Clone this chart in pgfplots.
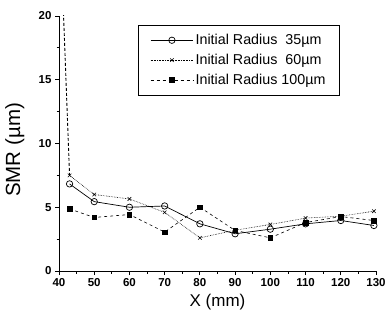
\documentclass[border=0pt]{standalone}
\usepackage{pgfplots}
\pgfplotsset{compat=1.18}
\usepackage{fontspec}
\setmainfont{Liberation Sans}
\begin{document}
\begin{tikzpicture}
\begin{axis}[
  scale only axis,
  width=317pt, height=255pt,
  xmin=40, xmax=130, ymin=0, ymax=20,
  xtick={40,50,...,130}, ytick={0,5,10,15,20},
  minor x tick num=1, minor y tick num=1,
  axis lines*=left,
  tick align=outside,
  major tick length=4pt, minor tick length=2.5pt,
  tick style={black, line width=0.8pt},
  axis line style={line width=0.9pt},
  /pgf/number format/assume math mode=true,
  ticklabel style={font=\fontsize{11.5}{13}\selectfont\bfseries},
  xlabel={X (mm)},
  ylabel={SMR (\textmu m)},
  xlabel style={font=\fontsize{17}{20}\selectfont, yshift=-1pt},
  ylabel style={font=\fontsize{20.5}{22}\selectfont, at={(axis description cs:-0.139,0.475)}, anchor=center},
  legend style={at={(0.886,0.965)}, anchor=north east, draw=black, line width=0.8pt,
    font=\fontsize{14.3}{16}\selectfont, row sep=4pt, inner xsep=12pt, inner ysep=7pt},
  legend cell align=left,
  legend image code/.code={
    \draw[mark repeat=2,mark phase=2,#1] plot coordinates {(0cm,0cm) (0.75cm,0cm) (1.5cm,0cm)};
  },
  clip=true,
]
\addplot[black, line width=0.7pt, mark=o, mark size=3.2pt, mark options={solid, fill=white}]
  coordinates {(43,6.83)(50,5.44)(60,5.0)(70,5.1)(80,3.7)(90,2.92)(100,3.28)(110,3.7)(120,3.96)(129.4,3.57)};
\addlegendentry{Initial Radius\ \ 35\textmu m}
\addplot[black, line width=0.6pt, densely dotted, mark=x, mark size=2.5pt, mark options={solid}]
  coordinates {(43,7.5)(50,6.0)(60,5.65)(70,4.6)(80,2.6)(90,3.2)(100,3.65)(110,4.15)(120,4.3)(129.4,4.69)};
\addlegendentry{Initial Radius\ \ 60\textmu m}
\addplot[black, line width=0.6pt, dashed, mark=square*, mark size=2.3pt, mark options={solid}]
  coordinates {(43,4.87)(50,4.2)(60,4.43)(70,3.05)(80,5.0)(90,3.18)(100,2.6)(110,3.8)(120,4.27)(129.4,3.96)};
\addlegendentry{Initial Radius 100\textmu m}
\addplot[black, line width=0.9pt, densely dashed, forget plot]
  coordinates {(41,22.2)(43,7.5)};
\end{axis}
\path (current axis.south west) ++(-59pt,-52pt);
\path (current axis.north east) ++(13pt,16pt);
\end{tikzpicture}
\end{document}
